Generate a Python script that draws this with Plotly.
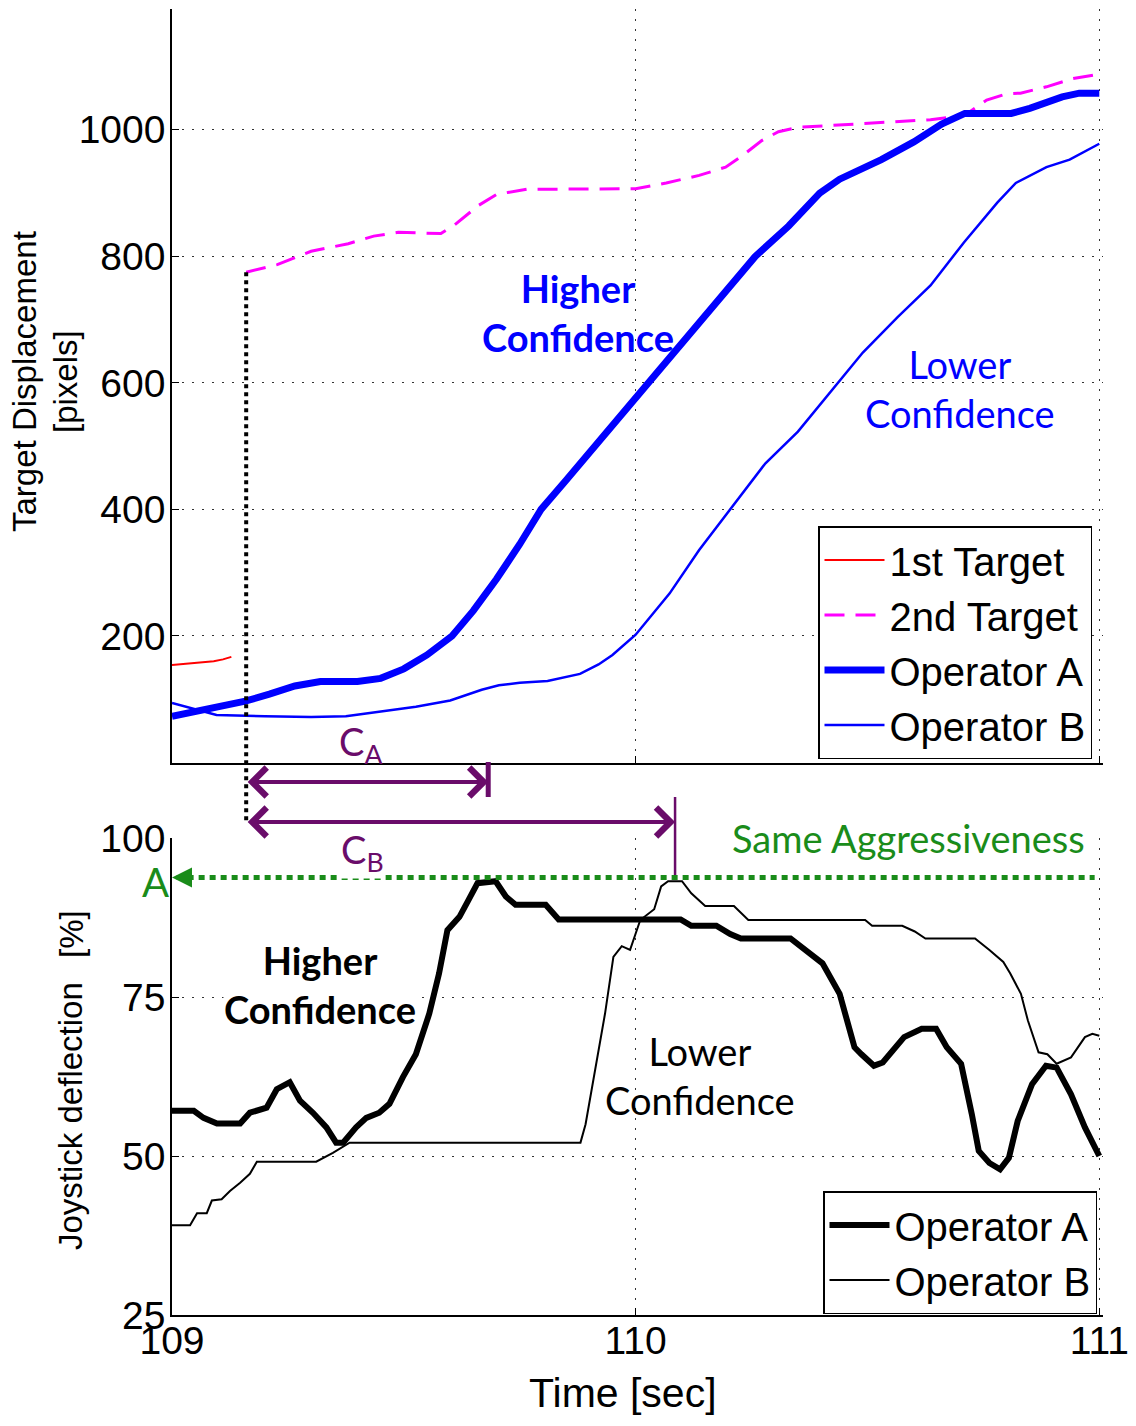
import plotly.graph_objects as go

# ---------------- data ----------------
# Upper panel: target displacement [pixels] vs time [sec]
t_target1 = [109.000, 109.030, 109.060, 109.090, 109.110, 109.128]
y_target1 = [154, 156, 158, 160, 163, 167]

t_target2 = [109.160, 109.227, 109.300, 109.380, 109.435, 109.488, 109.580, 109.610,
             109.660, 109.700, 109.765, 110.000, 110.066, 110.137, 110.194, 110.230,
             110.272, 110.308, 110.350, 110.636, 110.710, 110.757, 110.800, 110.830,
             110.886, 110.943, 111.000]
y_target2 = [775, 787, 808, 820, 832, 838, 836, 850,
             880, 898, 906, 907, 916, 928, 941, 959,
             983, 997, 1004, 1016, 1023, 1047, 1057, 1058,
             1068, 1081, 1088]

t_disp_a = [109.000, 109.050, 109.100, 109.158, 109.210, 109.265, 109.320, 109.400,
            109.450, 109.500, 109.550, 109.604, 109.650, 109.700, 109.750, 109.796,
            109.850, 109.900, 109.950, 110.000, 110.030, 110.100, 110.180, 110.258,
            110.330, 110.397, 110.440, 110.530, 110.600, 110.660, 110.710, 110.810,
            110.850, 110.920, 110.957, 111.000]
y_disp_a = [73, 80, 88, 97, 108, 121, 128, 128,
            133, 148, 170, 200, 240, 290, 345, 400,
            446, 489, 532, 575, 600, 660, 730, 800,
            848, 900, 922, 953, 981, 1009, 1026, 1026,
            1034, 1052, 1058, 1058]

t_disp_b = [109.000, 109.050, 109.096, 109.200, 109.300, 109.375, 109.450, 109.526,
            109.600, 109.668, 109.705, 109.750, 109.810, 109.880, 109.920, 109.950,
            110.000, 110.073, 110.137, 110.208, 110.280, 110.350, 110.420, 110.490,
            110.565, 110.636, 110.708, 110.780, 110.820, 110.886, 110.936, 111.000]
y_disp_b = [94, 84, 75, 73, 72, 73, 80, 88,
            98, 115, 122, 126, 129, 140, 155, 170,
            202, 267, 336, 404, 473, 523, 585, 648,
            704, 754, 822, 885, 916, 941, 953, 978]

# Lower panel: joystick deflection [%] vs time [sec]
t_joy_a = [109.000, 109.047, 109.068, 109.097, 109.147, 109.168, 109.204, 109.226,
           109.254, 109.276, 109.304, 109.333, 109.354, 109.369, 109.397, 109.419,
           109.447, 109.469, 109.498, 109.526, 109.555, 109.576, 109.594, 109.620,
           109.640, 109.659, 109.698, 109.720, 109.741, 109.806, 109.834, 110.097,
           110.120, 110.174, 110.204, 110.227, 110.334, 110.365, 110.403, 110.440,
           110.472, 110.487, 110.514, 110.533, 110.579, 110.617, 110.648, 110.671,
           110.702, 110.725, 110.740, 110.763, 110.786, 110.805, 110.824, 110.855,
           110.885, 110.908, 110.939, 110.969, 111.000]
y_joy_a = [57.1, 57.1, 56.0, 55.1, 55.1, 56.8, 57.6, 60.5,
           61.6, 58.7, 56.8, 54.5, 52.1, 52.1, 54.5, 56.0,
           56.8, 58.2, 62.4, 66.0, 72.4, 78.7, 85.5, 87.6,
           90.3, 92.9, 93.2, 90.8, 89.5, 89.5, 87.2, 87.2,
           86.2, 86.2, 84.9, 84.2, 84.2, 82.4, 80.3, 75.5,
           67.1, 66.0, 64.2, 64.7, 68.7, 70.0, 70.0, 67.1,
           64.5, 56.6, 50.8, 48.9, 47.9, 49.7, 55.5, 61.3,
           64.2, 63.9, 59.7, 54.5, 50.0]

t_joy_b = [109.000, 109.039, 109.054, 109.075, 109.086, 109.107, 109.125, 109.147,
           109.168, 109.183, 109.311, 109.326, 109.347, 109.383, 109.881, 109.892,
           109.913, 109.934, 109.952, 109.970, 109.988, 110.010, 110.040, 110.055,
           110.070, 110.100, 110.120, 110.150, 110.212, 110.243, 110.495, 110.510,
           110.575, 110.602, 110.625, 110.732, 110.763, 110.793, 110.808, 110.831,
           110.846, 110.869, 110.888, 110.908, 110.939, 110.969, 110.985, 111.000]
y_joy_b = [39.1, 39.1, 41.0, 41.0, 43.0, 43.2, 44.5, 45.8,
           47.2, 49.1, 49.1, 49.7, 50.5, 52.1, 52.1, 55.0,
           63.9, 72.4, 81.3, 83.0, 82.4, 87.1, 88.8, 92.4,
           93.2, 93.2, 91.3, 89.3, 89.3, 87.1, 87.1, 86.2,
           86.2, 85.3, 84.2, 84.2, 82.4, 80.5, 78.7, 75.5,
           71.3, 66.3, 66.0, 64.5, 65.5, 68.7, 69.2, 68.9]

# Event times and the common peak deflection
t_second_target = 109.16
t_peak_a = 109.682
t_peak_b = 110.085
aggressiveness_level = 93.8

x_ticks = [109, 110, 111]
y_ticks_top = [200, 400, 600, 800, 1000]
y_ticks_bottom = [25, 50, 75, 100]

# ---------------- layout helpers ----------------
W, H = 1136, 1426


def px(x):
    return x / W


def py(y):
    return 1 - y / H


X_DOM = [px(172), px(1103)]
TOP_DOM = [py(762.5), py(9)]
BOT_DOM = [py(1315), py(838)]
TOP_RANGE = [0, 1191]
BOT_RANGE = [25, 100]
X_RANGE = [109, 111.008]


def top_to_paper(v):
    return TOP_DOM[0] + (v - TOP_RANGE[0]) / (TOP_RANGE[1] - TOP_RANGE[0]) * (TOP_DOM[1] - TOP_DOM[0])


def bot_to_paper(v):
    return BOT_DOM[0] + (v - BOT_RANGE[0]) / (BOT_RANGE[1] - BOT_RANGE[0]) * (BOT_DOM[1] - BOT_DOM[0])


PURPLE = "#6a0c6a"
GREEN = "#1a8c1a"
BLUE = "#0000ff"
SANS = "Liberation Sans, Arial, sans-serif"
TICK_FONT = dict(family=SANS, size=39, color="black")
NOTE_FONT = "Lato, Open Sans, sans-serif"
NOTE_SIZE = 38
GRID_DASH = "2px,8px"

fig = go.Figure()

# ---------------- upper panel traces ----------------
fig.add_trace(go.Scatter(x=t_target1, y=y_target1, mode="lines", name="1st Target",
                         line=dict(color="#ff0000", width=2), xaxis="x", yaxis="y",
                         legend="legend"))
fig.add_trace(go.Scatter(x=t_target2, y=y_target2, mode="lines", name="2nd Target",
                         line=dict(color="#ff00ff", width=3, dash="20px,11px"),
                         xaxis="x", yaxis="y", legend="legend"))
fig.add_trace(go.Scatter(x=t_disp_a, y=y_disp_a, mode="lines", name="Operator A",
                         line=dict(color=BLUE, width=7), xaxis="x", yaxis="y",
                         legend="legend"))
fig.add_trace(go.Scatter(x=t_disp_b, y=y_disp_b, mode="lines", name="Operator B",
                         line=dict(color=BLUE, width=2.5), xaxis="x", yaxis="y",
                         legend="legend"))

# ---------------- lower panel traces ----------------
fig.add_trace(go.Scatter(x=t_joy_a, y=y_joy_a, mode="lines", name="Operator A",
                         line=dict(color="black", width=6), xaxis="x2", yaxis="y2",
                         legend="legend2"))
fig.add_trace(go.Scatter(x=t_joy_b, y=y_joy_b, mode="lines", name="Operator B",
                         line=dict(color="black", width=2), xaxis="x2", yaxis="y2",
                         legend="legend2"))

axis_common = dict(showline=True, linecolor="black", linewidth=1.5, mirror=False,
                   ticks="inside", ticklen=7, tickcolor="black", tickwidth=1.2,
                   showgrid=True, gridcolor="#333333", gridwidth=1, griddash=GRID_DASH,
                   zeroline=False, tickfont=TICK_FONT, automargin=False)

legend_common = dict(font=dict(family=SANS, size=40, color="black"),
                     bgcolor="white", bordercolor="black", borderwidth=1.5,
                     xanchor="right", yanchor="top", itemwidth=60,
                     tracegroupgap=0)

fig.update_layout(
    width=W, height=H,
    margin=dict(l=0, r=0, t=0, b=0, autoexpand=False),
    paper_bgcolor="white", plot_bgcolor="white",
    xaxis=dict(domain=X_DOM, range=X_RANGE, tickvals=x_ticks,
               showticklabels=False, anchor="y", **axis_common),
    yaxis=dict(domain=TOP_DOM, range=TOP_RANGE, tickvals=y_ticks_top,
               anchor="x", ticklabelstandoff=-3, **axis_common),
    xaxis2=dict(domain=X_DOM, range=X_RANGE, tickvals=x_ticks,
                ticktext=[str(v) for v in x_ticks], anchor="y2",
                ticklabelstandoff=-10, **axis_common),
    yaxis2=dict(domain=BOT_DOM, range=BOT_RANGE, tickvals=y_ticks_bottom,
                anchor="x2", ticklabelstandoff=-3, **axis_common),
    legend=dict(x=px(1092), y=py(526), **legend_common),
    legend2=dict(x=px(1097), y=py(1191), **legend_common),
    showlegend=True,
)


def label(text, x, y, size, color, family, **extra):
    """Free text placed in figure pixels, centred on (x, y)."""
    return dict(text=text, x=px(x), y=py(y), xref="paper", yref="paper",
                xanchor="center", yanchor="middle", showarrow=False,
                font=dict(family=family, size=size, color=color), **extra)


# ---------------- annotations: axis titles ----------------
annotations = [
    label("Target Displacement", 25, 382, 33, "black", SANS, textangle=-90),
    label("[pixels]", 66, 382, 33, "black", SANS, textangle=-90),
    label("Joystick deflection", 70, 1116, 33, "black", SANS, textangle=-90),
    label("[%]", 72, 934, 33, "black", SANS, textangle=-90),
    label("Time [sec]", 623, 1393, 41, "black", SANS),
]

# ---------------- annotations: notes ----------------
annotations += [
    label("<b>Higher<br>Confidence</b>", 578, 312, NOTE_SIZE, BLUE, NOTE_FONT),
    label("Lower<br>Confidence", 960, 388, NOTE_SIZE, BLUE, NOTE_FONT),
    label("<b>Higher<br>Confidence</b>", 320, 984, NOTE_SIZE, "black", NOTE_FONT,
          bgcolor="white", borderpad=0),
    label("Lower<br>Confidence", 700, 1075, NOTE_SIZE, "black", NOTE_FONT),
    label("Same Aggressiveness", 908, 838, NOTE_SIZE, GREEN, NOTE_FONT,
          bgcolor="white", borderpad=0),
    label("C<sub>A</sub>", 360, 744, 38, PURPLE, NOTE_FONT),
    label("C<sub>B</sub>", 362, 852, 38, PURPLE, NOTE_FONT, bgcolor="white", borderpad=0),
    dict(text="A", x=px(155), y=aggressiveness_level, xref="paper", yref="y2",
         xanchor="center", yanchor="middle", yshift=-5, showarrow=False,
         font=dict(family=NOTE_FONT, size=40, color=GREEN)),
]

# C_A and C_B double-headed intervals
for t_end, ypix in [(t_peak_a, 782), (t_peak_b, 822)]:
    annotations.append(dict(
        text="", x=t_end, y=py(ypix), xref="x", yref="paper",
        ax=t_second_target, ay=0, axref="x", ayref="pixel",
        showarrow=True, arrowside="end+start", arrowhead=4, startarrowhead=4,
        arrowsize=1.4, startarrowsize=1.4, arrowwidth=4, arrowcolor=PURPLE,
        standoff=0, startstandoff=0))

# head of the aggressiveness reference line
annotations.append(dict(
    text="", x=109.0, y=aggressiveness_level, xref="x2", yref="y2",
    ax=20, ay=0, axref="pixel", ayref="pixel", showarrow=True,
    arrowhead=2, arrowsize=1, arrowwidth=4, arrowcolor=GREEN, standoff=0))

fig.update_layout(annotations=annotations)

# ---------------- shapes ----------------
shapes = [
    # onset of the second target
    dict(type="line", xref="x", yref="paper", x0=t_second_target, x1=t_second_target,
         y0=top_to_paper(y_target2[0]), y1=py(822),
         line=dict(color="black", width=4, dash="4px,4px")),
    # end marker of C_A
    dict(type="line", xref="x", yref="paper", x0=t_peak_a, x1=t_peak_a,
         y0=py(762), y1=py(797), line=dict(color=PURPLE, width=5)),
    # end marker of C_B, down to the common peak
    dict(type="line", xref="x", yref="paper", x0=t_peak_b, x1=t_peak_b,
         y0=py(797), y1=bot_to_paper(aggressiveness_level), line=dict(color=PURPLE, width=2.5)),
    # same-aggressiveness reference level
    dict(type="line", xref="x2", yref="y2", x0=109.01, x1=110.99,
         y0=aggressiveness_level, y1=aggressiveness_level,
         line=dict(color=GREEN, width=5, dash="6px,5px")),
]
fig.update_layout(shapes=shapes)

fig.write_html("out.html")
